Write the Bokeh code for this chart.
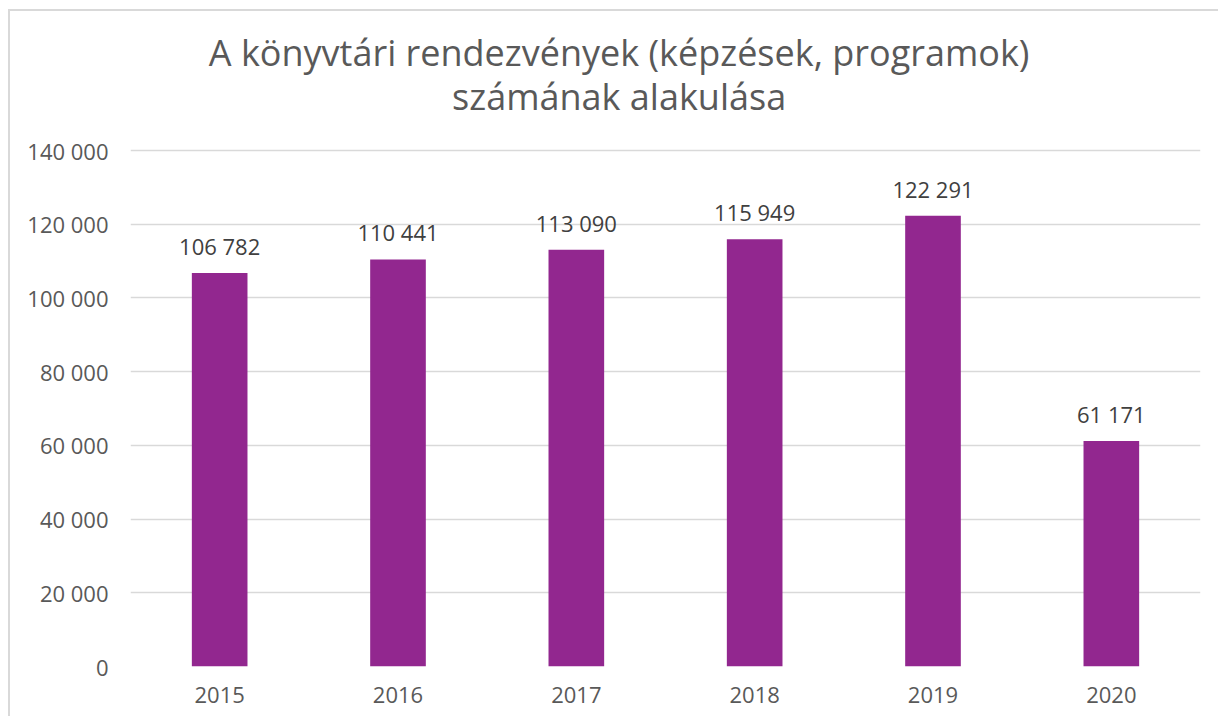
from bokeh.plotting import figure
from bokeh.models import ColumnDataSource, LabelSet, Label
from bokeh.core.properties import value
from bokeh.embed import file_html
from bokeh.resources import INLINE

years = ["2015", "2016", "2017", "2018", "2019", "2020"]
values = [106782, 110441, 113090, 115949, 122291, 61171]
y_ticks = [0, 20000, 40000, 60000, 80000, 100000, 120000, 140000]
title_lines = ["A könyvtári rendezvények (képzések, programok)", "számának alakulása"]


def fmt(v):
    return f"{v:,}".replace(",", " ")


FONT = "Open Sans"
BAR = "#92278F"

src = ColumnDataSource(dict(x=years, y=values, lab=[fmt(v) for v in values]))

# the frame reaches up to the top of the chart so that the title fits inside it;
# grid lines and ticks only go up to 140 000
p = figure(x_range=years, y_range=(0, 177442), width=1210, height=707,
           output_backend="svg", toolbar_location=None,
           min_border_left=120, min_border_right=20,
           min_border_top=1, min_border_bottom=52)
p.styles = {"margin-left": "8px", "margin-top": "9px",
            "border-left": "2px solid #d9d9d9", "border-top": "2px solid #d9d9d9"}

p.vbar(x="x", top="y", width=0.312, source=src, fill_color=BAR, line_color=None)

labels = LabelSet(x="x", y="y", text="lab", source=src, text_align="center",
                  text_baseline="alphabetic", y_offset=18,
                  text_font=value(FONT), text_font_size="22px", text_color="#404040")
p.add_layout(labels)

p.outline_line_color = None
p.background_fill_color = "white"
p.border_fill_color = "white"
p.xgrid.grid_line_color = None
p.ygrid.grid_line_color = "#d9d9d9"
p.ygrid.grid_line_width = 1.5

p.yaxis.ticker = y_ticks
p.yaxis.major_label_overrides = {t: fmt(t) for t in y_ticks}
for ax in (p.xaxis[0], p.yaxis[0]):
    ax.axis_line_color = None
    ax.major_tick_line_color = None
    ax.minor_tick_line_color = None
    ax.major_tick_in = 0
    ax.major_tick_out = 0
    ax.major_label_text_font = FONT
    ax.major_label_text_font_size = "22px"
    ax.major_label_text_color = "#595959"
p.yaxis.major_label_standoff = 22
p.xaxis.major_label_standoff = 20

p.add_layout(Label(x=2.74, y=166500, text=title_lines[0], text_align="center",
                   text_baseline="alphabetic", text_font=FONT, text_font_size="36px",
                   text_color="#595959"))
p.add_layout(Label(x=2.74, y=154600, text=title_lines[1], text_align="center",
                   text_baseline="alphabetic", text_font=FONT, text_font_size="36px",
                   text_color="#595959"))

open("out.html", "w").write(file_html(p, INLINE))
